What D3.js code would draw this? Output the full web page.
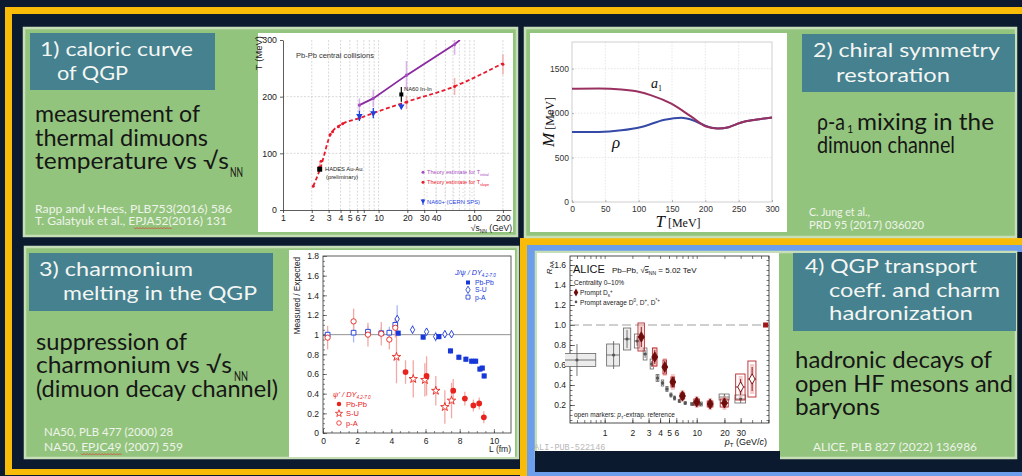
<!DOCTYPE html>
<html><head><meta charset="utf-8">
<script src="https://cdn.jsdelivr.net/npm/d3@7"></script>
<style>body{margin:0;background:#0c1a2f;}svg{display:block;}</style>
</head><body>
<svg id="c" width="1022" height="476"></svg>
<script>
// ---------- slide text ----------
const titles1 = ["1) caloric curve", "of QGP"];
const titles2 = ["2) chiral symmetry", "restoration"];
const titles3 = ["3) charmonium", "melting in the QGP"];
const titles4 = ["4) QGP transport", "coeff. and charm", "hadronization"];
const body1 = ["measurement of", "thermal dimuons", "temperature vs √s"];
const body2 = ["ρ-a", "mixing in the", "dimuon channel"];
const body3 = ["suppression of", "charmonium vs √s", "(dimuon decay channel)"];
const body4 = ["hadronic decays of", "open HF mesons and", "baryons"];
const refs1 = ["Rapp and v.Hees, PLB753(2016) 586", "T. Galatyuk et al., EPJA52(2016) 131"];
const refs2 = ["C. Jung et al.,", "PRD 95 (2017) 036020"];
const refs3 = ["NA50, PLB 477 (2000) 28", "NA50, EPJC49 (2007) 559"];
const refs4 = ["ALICE, PLB 827 (2022) 136986"];

// ---------- caloric curve: T vs sqrt(s_NN) ----------
const caloricXTicks = [1, 2, 3, 4, 5, 6, 7, 10, 20, 30, 40, 100, 200];
const caloricGrid = [2, 3, 4, 5, 6, 7, 8, 9, 10, 20, 30, 40, 50, 60, 70, 80, 90, 100, 200];
const caloricYTicks = [0, 100, 200, 300];
const tInitialLine = [[6.3, 185], [8.8, 197], [19.7, 238], [62, 292], [71, 300]];
const tSlopeLine = [[2.07, 42], [2.44, 72], [3.2, 136], [4.2, 152], [6.3, 162], [8.8, 171], [19.7, 191], [62, 218], [200, 259]];
const tInitialPts = [[6.3, 185, 12], [8.8, 197, 15], [19.6, 238, 25], [62.4, 292, 18]];
const tSlopePts = [[2.07, 42, 0], [2.42, 76, 8], [2.5, 86, 0], [3.1, 133, 0], [3.3, 138, 0], [3.8, 147, 0], [4.2, 152, 0], [6.3, 162, 0], [8.8, 171, 0], [19.6, 190, 12], [62.4, 218, 15], [200, 257, 18]];
const na60PlusPts = [[6.3, 166, 9], [8.8, 171, 9], [17.3, 183, 5]];
const hadesPt = [[2.42, 72]];
const na60InInPt = [[17.3, 204, 13]];

// ---------- chiral mixing: M vs T ----------
const tempTicks = [0, 50, 100, 150, 200, 250, 300];
const massTicks = [0, 500, 1000, 1500];
const a1Mass = [[0, 1275], [40, 1276], [74, 1266], [100, 1240], [119, 1200], [149, 1106], [179, 960], [201, 850], [219, 827], [235, 842], [254, 895], [275, 925], [300, 952]];
const rhoMass = [[0, 787], [40, 788], [74, 806], [104, 844], [139, 926], [164, 949], [179, 926], [199, 862], [210, 835], [219, 827], [235, 842], [254, 895], [275, 925], [300, 952]];

// ---------- charmonium suppression: Measured/Expected vs L ----------
const lTicks = [0, 2, 4, 6, 8, 10];
const ratioTicks = [0, 0.2, 0.4, 0.6, 0.8, 1, 1.2, 1.4, 1.6, 1.8];
const jpsiPbPb = [[4.40, 1.015, 0.03], [5.86, 0.975, 0.03], [6.78, 0.98, 0.03], [7.46, 0.835, 0.03], [7.95, 0.77, 0.03], [8.36, 0.75, 0.03], [8.70, 0.73, 0.03], [8.93, 0.73, 0.03], [9.18, 0.65, 0.03], [9.32, 0.66, 0.03], [9.43, 0.58, 0.03]];
const jpsiSU = [[4.34, 1.16, 0.14], [5.24, 1.05, 0.05], [6.06, 1.03, 0.04], [6.59, 0.98, 0.05], [7.13, 1.005, 0.04], [7.52, 1.005, 0.04]];
const jpsiPA = [[0.27, 1.0, 0.05], [1.79, 1.02, 0.1], [2.63, 1.03, 0.06], [3.41, 1.015, 0.06], [3.88, 1.02, 0.06], [4.23, 1.1, 0.06]];
const psiPbPb = [[4.83, 0.62, 0.12], [6.06, 0.58, 0.2], [7.62, 0.43, 0.12], [8.3, 0.35, 0.07], [8.8, 0.28, 0.06], [9.14, 0.3, 0.06], [9.41, 0.16, 0.06]];
const psiSU = [[4.3, 0.775, 0.27], [5.28, 0.55, 0.19], [5.96, 0.54, 0.17], [6.6, 0.43, 0.15], [7.13, 0.265, 0.17], [7.52, 0.33, 0.18]];
const psiPA = [[0.27, 0.97, 0.12], [1.79, 1.135, 0.13], [2.63, 1.0, 0.12], [3.41, 1.01, 0.12], [3.88, 0.95, 0.1], [4.23, 1.07, 0.1]];

// ---------- ALICE R_AA vs pT ----------
const ptTicks = [1, 2, 3, 4, 5, 6, 10, 20, 30];
const ptMinor = [0.5, 0.6, 0.7, 0.8, 0.9, 1, 2, 3, 4, 5, 6, 7, 8, 9, 10, 20, 30, 40, 50, 60];
const raaTicks = [0.2, 0.4, 0.6, 0.8, 1.0, 1.2, 1.4, 1.6];
// [pT, R_AA, systematic, statistical, box low pT, box high pT]
const dAverage = [[0.5, 0.65, 0.065, 0.16, 0.36, 0.8], [1.25, 0.70, 0.11, 0.14, 1.05, 1.45], [1.75, 0.86, 0.11, 0.09, 1.6, 1.92], [2.25, 0.84, 0.07, 0.05, 2.1, 2.4], [2.75, 0.71, 0.06, 0.04, 2.62, 2.88], [3.25, 0.61, 0.05, 0.03, 3.12, 3.38], [3.75, 0.47, 0.035, 0.03, 3.62, 3.88], [4.25, 0.42, 0.03, 0.02, 4.12, 4.38], [4.75, 0.36, 0.025, 0.02, 4.62, 4.88], [5.25, 0.30, 0.02, 0.02, 5.12, 5.38], [5.75, 0.27, 0.02, 0.02, 5.62, 5.88], [6.5, 0.24, 0.015, 0.015, 6.3, 6.7], [7.5, 0.22, 0.015, 0.015, 7.3, 7.7], [9, 0.21, 0.015, 0.015, 8.6, 9.4], [11, 0.21, 0.02, 0.02, 10.5, 11.5], [14, 0.21, 0.02, 0.02, 13.3, 14.7], [20, 0.28, 0.03, 0.03, 17.5, 22.5], [30, 0.26, 0.04, 0.04, 26, 34]];
// [pT, R_AA, systematic, statistical, box low pT, box high pT, open marker]
const dsPrompt = [[2.5, 0.88, 0.14, 0.1, 2.3, 2.7, 0], [3.5, 0.68, 0.09, 0.07, 3.3, 3.7, 0], [4.5, 0.58, 0.07, 0.06, 4.3, 4.7, 0], [5.5, 0.43, 0.05, 0.05, 5.25, 5.75, 0], [7, 0.29, 0.03, 0.03, 6.6, 7.4, 0], [10, 0.23, 0.03, 0.03, 9.3, 10.7, 0], [14, 0.21, 0.03, 0.03, 13, 15, 0], [20, 0.22, 0.04, 0.04, 18, 22, 0], [30, 0.38, 0.13, 0.08, 26.5, 33.5, 1], [40, 0.46, 0.18, 0.12, 36, 44, 1]];
const normUnc = [[56, 1.0]];

// ---------- colours ----------
const NAVY = '#0c1a2f', YEL = '#f8bb08', BLUE = '#6d9eeb', GREEN = '#93c47d', EDGE = '#c6dfb9', TEAL = '#45818e';
const SLIDE_FONT = 'Lato, "Open Sans", sans-serif';
const PLOT_FONT = '"Liberation Sans", Arial, sans-serif';
const SERIF = '"Liberation Serif", "DejaVu Serif", serif';

const svg = d3.select('#c');

function txt(parent, x, y, str, o = {}) {
  const t = parent.append('text').attr('x', x).attr('y', y).text(str)
    .attr('font-family', o.family || SLIDE_FONT)
    .attr('font-size', o.size || 12)
    .attr('fill', o.color || '#111');
  if (o.anchor) t.attr('text-anchor', o.anchor);
  if (o.italic) t.attr('font-style', 'italic');
  if (o.len) t.attr('textLength', o.len).attr('lengthAdjust', 'spacingAndGlyphs');
  if (o.rotate) t.attr('transform', `rotate(${o.rotate},${x},${y})`);
  return t;
}
// a slide text box: one <text>, one absolutely placed run per line piece
// piece = [x, baseline, string, width, font size (optional)]
function textBox(pieces, size, color) {
  const t = svg.append('text').attr('font-family', SLIDE_FONT).attr('font-size', size).attr('fill', color);
  pieces.forEach(p => {
    const s = t.append('tspan').attr('x', p[0]).attr('y', p[1]).text(p[2]);
    if (p[3]) s.attr('textLength', p[3]).attr('lengthAdjust', 'spacingAndGlyphs');
    if (p[4]) s.attr('font-size', p[4]);
  });
  return t;
}

// ---------- background and frames ----------
svg.append('rect').attr('width', 1022).attr('height', 476).attr('fill', NAVY);
svg.append('rect').attr('x', 5).attr('y', 7).attr('width', 1017).attr('height', 7).attr('fill', YEL);
svg.append('rect').attr('x', 5).attr('y', 7).attr('width', 7).attr('height', 468).attr('fill', YEL);
svg.append('rect').attr('x', 5).attr('y', 469).attr('width', 522).attr('height', 6).attr('fill', YEL);
svg.append('rect').attr('x', 520).attr('y', 238).attr('width', 502).attr('height', 238).attr('fill', YEL);
svg.append('rect').attr('x', 527).attr('y', 245).attr('width', 495).attr('height', 231).attr('fill', BLUE);
svg.append('rect').attr('x', 535).attr('y', 252).attr('width', 487).attr('height', 220).attr('fill', NAVY);

// ---------- panels ----------
const panels = [[24, 28, 493, 208], [525, 28, 491, 209], [25, 247, 493, 211], [536, 252, 480, 206]];
svg.selectAll(null).data(panels).join('rect')
  .attr('x', d => d[0]).attr('y', d => d[1]).attr('width', d => d[2]).attr('height', d => d[3])
  .attr('fill', GREEN).attr('stroke', EDGE).attr('stroke-width', 2.5);
// the ALICE figure sits lower than its panel and leaves the slide background below it
svg.append('rect').attr('x', 535).attr('y', 451).attr('width', 245).attr('height', 21).attr('fill', NAVY);

const boxes = [[30, 33, 185, 57], [802, 34, 213, 58], [29, 253, 244, 58], [793, 253, 223, 78]];
svg.selectAll(null).data(boxes).join('rect')
  .attr('x', d => d[0]).attr('y', d => d[1]).attr('width', d => d[2]).attr('height', d => d[3])
  .attr('fill', TEAL);

const W = '#f4f6f4', tsz = 19;
textBox([[40, 56, titles1[0], 153], [57, 80, titles1[1], 71]], tsz, W);
textBox([[813, 57, titles2[0], 187], [836, 82, titles2[1], 114]], tsz, W);
textBox([[39, 276, titles3[0], 154], [63, 300, titles3[1], 194]], tsz, W);
textBox([[805, 273, titles4[0], 172], [829, 297, titles4[1], 171], [829, 320, titles4[2], 144]], tsz, W);

const bsz = 23, BK = '#161616';
textBox([[35, 122, body1[0], 165], [35, 146, body1[1], 173], [35, 169, body1[2], 194], [230, 177, 'NN', 13, 13]], bsz, BK);
textBox([[817, 130, body2[0], 28], [847, 133, '1', 0, 11], [857, 130, body2[1], 137], [817, 153, body2[2], 138]], bsz, BK);
textBox([[36, 350, body3[0], 151], [36, 373, body3[1], 196], [234, 381, 'NN', 14, 13], [36, 397, body3[2], 242]], bsz, BK);
textBox([[795, 368, body4[0], 197], [795, 392, body4[1], 218], [795, 415, body4[2], 85]], bsz, BK);

const RC = '#eef4ea', rsz = 11.5;
textBox([[35, 213, refs1[0], 197], [35, 225, refs1[1], 192]], rsz, RC);
textBox([[809, 216, refs2[0], 61], [809, 229, refs2[1], 115]], rsz, RC);
textBox([[44, 436, refs3[0], 129], [44, 451, refs3[1], 139]], rsz, RC);
textBox([[813, 451, refs4[0], 164]], rsz, RC);
// spell-check squiggles under the journal names
function squiggle(x0, x1, y) {
  const pts = d3.range(x0, x1 + 0.1, 1.5).map((x, i) => [x, y + (i % 2 ? 1 : -0.5)]);
  svg.append('path').attr('d', d3.line()(pts)).attr('fill', 'none').attr('stroke', '#d9453a').attr('stroke-width', 0.8);
}
squiggle(134, 172, 228);
squiggle(81, 122, 454);

// =========== chart 1: caloric curve ===========
{
  const g = svg.append('g');
  g.append('rect').attr('x', 258).attr('y', 33).attr('width', 255).attr('height', 199).attr('fill', '#fff');
  const x = d3.scaleLog().domain([1, 243]).range([283, 511]);
  const y = d3.scaleLinear().domain([0, 300]).range([210, 40]);
  g.selectAll(null).data(caloricGrid).join('line')
    .attr('x1', d => x(d)).attr('x2', d => x(d)).attr('y1', 40).attr('y2', 210)
    .attr('stroke', '#cfcfcf').attr('stroke-width', 0.8).attr('stroke-dasharray', '2,1.5');
  g.selectAll(null).data([100, 200]).join('line')
    .attr('x1', 283).attr('x2', 511).attr('y1', d => y(d)).attr('y2', d => y(d))
    .attr('stroke', '#cfcfcf').attr('stroke-width', 0.8).attr('stroke-dasharray', '2,1.5');
  const xa = g.append('g').attr('transform', 'translate(0,210)')
    .call(d3.axisBottom(x).tickValues(caloricXTicks).tickFormat(d3.format('d')).tickSize(3).tickSizeOuter(0).tickPadding(2));
  const ya = g.append('g').attr('transform', 'translate(283,0)')
    .call(d3.axisLeft(y).tickValues(caloricYTicks).tickSize(3).tickSizeOuter(0));
  [xa, ya].forEach(a => {
    a.selectAll('text').attr('font-family', PLOT_FONT).attr('font-size', 8.8).attr('fill', '#222');
    a.selectAll('path,line').attr('stroke', '#333').attr('stroke-width', 0.8);
  });
  txt(g, 262, 36, 'T (MeV)', {family: PLOT_FONT, size: 9.5, color: '#222', rotate: -90, anchor: 'end'});
  const xt = txt(g, 512, 231, '', {family: PLOT_FONT, size: 8.5, color: '#222', anchor: 'end'});
  xt.append('tspan').text('√s');
  xt.append('tspan').text('NN').attr('font-size', 5).attr('dy', 2);
  xt.append('tspan').text(' (GeV)').attr('dy', -2);
  txt(g, 296, 58, 'Pb-Pb central collisions', {family: PLOT_FONT, size: 7.5, color: '#333'});

  g.append('clipPath').attr('id', 'clip1').append('rect').attr('x', 283).attr('y', 40).attr('width', 228).attr('height', 170);
  const pg = g.append('g').attr('clip-path', 'url(#clip1)');
  const line = d3.line().x(d => x(d[0])).y(d => y(d[1]));
  // error bars
  pg.selectAll(null).data(tInitialPts).join('line')
    .attr('x1', d => x(d[0])).attr('x2', d => x(d[0])).attr('y1', d => y(d[1] - d[2])).attr('y2', d => y(d[1] + d[2]))
    .attr('stroke', '#d9b3e6').attr('stroke-width', 1.6);
  pg.selectAll(null).data(tSlopePts.filter(d => d[2] > 0)).join('line')
    .attr('x1', d => x(d[0])).attr('x2', d => x(d[0])).attr('y1', d => y(d[1] - d[2])).attr('y2', d => y(d[1] + d[2]))
    .attr('stroke', '#f2b3b3').attr('stroke-width', 1.6);
  pg.append('path').datum(tInitialLine).attr('d', line).attr('fill', 'none').attr('stroke', '#8a2aa0').attr('stroke-width', 1.8);
  pg.append('path').datum(tSlopeLine).attr('d', line.curve(d3.curveMonotoneX)).attr('fill', 'none')
    .attr('stroke', '#e8192c').attr('stroke-width', 1.8).attr('stroke-dasharray', '4,2.5');
  pg.selectAll(null).data(tInitialPts).join('circle')
    .attr('cx', d => x(d[0])).attr('cy', d => y(d[1])).attr('r', 1.6).attr('fill', '#a64cc0');
  pg.selectAll(null).data(tSlopePts).join('circle')
    .attr('cx', d => x(d[0])).attr('cy', d => y(d[1])).attr('r', 1.5).attr('fill', '#e8192c');
  pg.selectAll(null).data(na60PlusPts).join('line')
    .attr('x1', d => x(d[0])).attr('x2', d => x(d[0])).attr('y1', d => y(d[1] - d[2])).attr('y2', d => y(d[1] + d[2]))
    .attr('stroke', '#1f3fe0').attr('stroke-width', 1.3);
  pg.selectAll(null).data(na60PlusPts).join('path')
    .attr('transform', d => `translate(${x(d[0])},${y(d[1])}) rotate(180)`)
    .attr('d', d3.symbol().type(d3.symbolTriangle).size(18)).attr('fill', '#1f3fe0');
  pg.selectAll(null).data(hadesPt).join('rect')
    .attr('x', d => x(d[0]) - 2.5).attr('y', d => y(d[1]) - 2.5).attr('width', 5).attr('height', 5).attr('fill', '#000');
  pg.selectAll(null).data(na60InInPt).join('line')
    .attr('x1', d => x(d[0])).attr('x2', d => x(d[0])).attr('y1', d => y(d[1] - d[2])).attr('y2', d => y(d[1] + d[2]))
    .attr('stroke', '#000').attr('stroke-width', 1.2);
  pg.selectAll(null).data(na60InInPt).join('rect')
    .attr('x', d => x(d[0]) - 2).attr('y', d => y(d[1]) - 2).attr('width', 4).attr('height', 4).attr('fill', '#000');
  txt(g, 325, 171, 'HADES Au-Au', {family: PLOT_FONT, size: 5.8, color: '#222'});
  txt(g, 326, 178.5, '(preliminary)', {family: PLOT_FONT, size: 5.8, color: '#222'});
  txt(g, 404, 91, 'NA60 In-In', {family: PLOT_FONT, size: 5.8, color: '#222'});
  // legend
  const lg = [['Theory estimate for T', 'initial', '#a64cc0', 174], ['Theory estimate for T', 'slope', '#e8192c', 184]];
  lg.forEach(l => {
    g.append('circle').attr('cx', 423).attr('cy', l[3] - 1.8).attr('r', 1.5).attr('fill', l[2]);
    const t = txt(g, 427, l[3], '', {family: PLOT_FONT, size: 5.6, color: l[2]});
    t.append('tspan').text(l[0]);
    t.append('tspan').text(l[1]).attr('font-size', 3.8).attr('dy', 1.5);
  });
  g.selectAll(null).data(d3.cross(d3.range(6), d3.range(3))).join('circle')
    .attr('cx', d => 427 + d[0] * 9).attr('cy', d => 189 + d[1] * 3.5).attr('r', 0.4).attr('fill', '#999');
  g.append('line').attr('x1', 423).attr('x2', 423).attr('y1', 199).attr('y2', 205).attr('stroke', '#1f3fe0').attr('stroke-width', 1);
  g.append('path').attr('transform', 'translate(423,201) rotate(180)').attr('d', d3.symbol().type(d3.symbolTriangle).size(10)).attr('fill', '#1f3fe0');
  txt(g, 427, 203.5, 'NA60+ (CERN SPS)', {family: PLOT_FONT, size: 5.8, color: '#1f3fe0'});
}

// =========== chart 2: rho / a1 masses ===========
{
  const g = svg.append('g');
  g.append('rect').attr('x', 530).attr('y', 33).attr('width', 257).attr('height', 199).attr('fill', '#fff');
  const x = d3.scaleLinear().domain([0, 300]).range([572, 772]);
  const y = d3.scaleLinear().domain([0, 1800]).range([202, 42]);
  g.selectAll(null).data(tempTicks.slice(1, -1)).join('line')
    .attr('x1', d => x(d)).attr('x2', d => x(d)).attr('y1', 42).attr('y2', 202)
    .attr('stroke', '#dcdcdc').attr('stroke-width', 0.7).attr('stroke-dasharray', '1.5,1.5');
  g.selectAll(null).data(massTicks.slice(1)).join('line')
    .attr('x1', 572).attr('x2', 772).attr('y1', d => y(d)).attr('y2', d => y(d))
    .attr('stroke', '#dcdcdc').attr('stroke-width', 0.7).attr('stroke-dasharray', '1.5,1.5');
  g.append('rect').attr('x', 572).attr('y', 42).attr('width', 200).attr('height', 160)
    .attr('fill', 'none').attr('stroke', '#c4c4c4').attr('stroke-width', 0.8);
  const xa = g.append('g').attr('transform', 'translate(0,202)')
    .call(d3.axisBottom(x).tickValues(tempTicks).tickFormat(d3.format('d')).tickSize(-2).tickSizeOuter(0).tickPadding(4));
  const ya = g.append('g').attr('transform', 'translate(572,0)')
    .call(d3.axisLeft(y).tickValues(massTicks).tickFormat(d3.format('d')).tickSize(-2).tickSizeOuter(0).tickPadding(3));
  [xa, ya].forEach(a => {
    a.select('.domain').remove();
    a.selectAll('text').attr('font-family', PLOT_FONT).attr('font-size', 8.5).attr('fill', '#333');
    a.selectAll('line').attr('stroke', '#999').attr('stroke-width', 0.7);
  });
  const curve = d3.line().x(d => x(d[0])).y(d => y(d[1])).curve(d3.curveMonotoneX);
  g.append('path').datum(rhoMass).attr('d', curve).attr('fill', 'none').attr('stroke', '#3549a6').attr('stroke-width', 2);
  g.append('path').datum(a1Mass).attr('d', curve).attr('fill', 'none').attr('stroke', '#99305f').attr('stroke-width', 2);
  const a1 = txt(g, 651, 88, 'a', {family: SERIF, size: 14, color: '#111', italic: true});
  a1.append('tspan').text('1').attr('font-size', 8).attr('font-style', 'normal').attr('dy', 3);
  txt(g, 612, 148, 'ρ', {family: SERIF, size: 17, color: '#111', italic: true});
  const yt = txt(g, 554, 122, '', {family: SERIF, size: 17, color: '#111', rotate: -90, anchor: 'middle'});
  yt.append('tspan').text('M').attr('font-style', 'italic');
  yt.append('tspan').text(' [MeV]').attr('font-size', 12);
  const xt = txt(g, 678, 227, '', {family: SERIF, size: 17, color: '#111', anchor: 'middle'});
  xt.append('tspan').text('T').attr('font-style', 'italic');
  xt.append('tspan').text(' [MeV]').attr('font-size', 12);
}

// =========== chart 3: charmonium suppression ===========
{
  const g = svg.append('g');
  g.append('rect').attr('x', 289).attr('y', 250).attr('width', 226).attr('height', 207).attr('fill', '#fff');
  const x = d3.scaleLinear().domain([0, 11]).range([323, 511]);
  const y = d3.scaleLinear().domain([0, 1.8]).range([433, 256]);
  g.append('rect').attr('x', 323).attr('y', 256).attr('width', 188).attr('height', 177)
    .attr('fill', 'none').attr('stroke', '#333').attr('stroke-width', 0.8);
  g.append('line').attr('x1', 323).attr('x2', 511).attr('y1', y(1)).attr('y2', y(1)).attr('stroke', '#888').attr('stroke-width', 0.9);
  const xa = g.append('g').attr('transform', 'translate(0,433)')
    .call(d3.axisBottom(x).tickValues(lTicks).tickSize(-4).tickSizeOuter(0).tickPadding(5));
  const ya = g.append('g').attr('transform', 'translate(323,0)')
    .call(d3.axisLeft(y).tickValues(ratioTicks).tickFormat(d => d === 0 ? '0' : d === 1 ? '1' : d3.format('.1f')(d)).tickSize(-4).tickSizeOuter(0).tickPadding(4));
  const xm = g.append('g').attr('transform', 'translate(0,433)')
    .call(d3.axisBottom(x).tickValues(d3.range(0, 11, 0.5)).tickFormat('').tickSize(-2).tickSizeOuter(0));
  const ym = g.append('g').attr('transform', 'translate(323,0)')
    .call(d3.axisLeft(y).tickValues(d3.range(0, 1.8, 0.05)).tickFormat('').tickSize(-2).tickSizeOuter(0));
  [xa, ya, xm, ym].forEach(a => {
    a.select('.domain').remove();
    a.selectAll('text').attr('font-family', PLOT_FONT).attr('font-size', 8.5).attr('fill', '#222');
    a.selectAll('line').attr('stroke', '#333').attr('stroke-width', 0.6);
  });
  txt(g, 300, 257, 'Measured / Expected', {family: PLOT_FONT, size: 8.2, color: '#222', rotate: -90, anchor: 'end'});
  txt(g, 511, 452, 'L (fm)', {family: PLOT_FONT, size: 8.5, color: '#222', anchor: 'end'});

  const ebar = (data, color) => g.selectAll(null).data(data).join('line')
    .attr('x1', d => x(d[0])).attr('x2', d => x(d[0])).attr('y1', d => y(d[1] - d[2])).attr('y2', d => y(d[1] + d[2]))
    .attr('stroke', color).attr('stroke-width', 1.3);
  const marks = (data, type, size, color, filled) => g.selectAll(null).data(data).join('path')
    .attr('transform', d => `translate(${x(d[0])},${y(d[1])})`)
    .attr('d', d3.symbol().type(type).size(size))
    .attr('fill', filled ? color : '#fff').attr('stroke', color).attr('stroke-width', filled ? 0 : 0.9);
  const BL = '#1737d8', BLe = '#a9b8f0', RD = '#e8221c', RDe = '#f3a8a6';
  ebar(jpsiPA, BLe); ebar(jpsiSU, BLe); ebar(jpsiPbPb, BLe);
  ebar(psiPA, RDe); ebar(psiSU, RDe); ebar(psiPbPb, RDe);
  marks(jpsiPA, d3.symbolSquare, 22, BL, false);
  marks(jpsiSU, d3.symbolDiamond, 16, BL, false);
  marks(jpsiPbPb, d3.symbolSquare, 26, BL, true);
  marks(psiPA, d3.symbolCircle, 22, RD, false);
  marks(psiSU, d3.symbolStar, 22, RD, false);
  marks(psiPbPb, d3.symbolCircle, 26, RD, true);
  // legends
  const jl = txt(g, 455, 275, '', {family: PLOT_FONT, size: 7.2, color: BL, italic: true});
  jl.append('tspan').text('J/ψ / DY');
  jl.append('tspan').text('4.2-7.0').attr('font-size', 4.5).attr('dy', 2);
  const jleg = [['Pb-Pb', d3.symbolSquare, true], ['S-U', d3.symbolDiamond, false], ['p-A', d3.symbolSquare, false]];
  const jt = g.append('text').attr('font-family', PLOT_FONT).attr('font-size', 6.8).attr('fill', BL);
  jleg.forEach((d, i) => {
    g.append('path').attr('transform', `translate(468,${282.5 + i * 7.3})`).attr('d', d3.symbol().type(d[1]).size(16))
      .attr('fill', d[2] ? BL : '#fff').attr('stroke', BL).attr('stroke-width', d[2] ? 0 : 0.8);
    jt.append('tspan').attr('x', 475).attr('y', 285 + i * 7.3).text(d[0]);
  });
  const pl = txt(g, 333, 397, '', {family: PLOT_FONT, size: 7.5, color: RD, italic: true});
  pl.append('tspan').text("ψ' / DY");
  pl.append('tspan').text('4.2-7.0').attr('font-size', 4.5).attr('dy', 2);
  const pleg = [['Pb-Pb', d3.symbolCircle, true], ['S-U', d3.symbolStar, false], ['p-A', d3.symbolCircle, false]];
  pleg.forEach((d, i) => {
    g.append('path').attr('transform', `translate(339,${404 + i * 9.5})`).attr('d', d3.symbol().type(d[1]).size(16))
      .attr('fill', d[2] ? RD : '#fff').attr('stroke', RD).attr('stroke-width', d[2] ? 0 : 0.8);
    txt(g, 346, 406.5 + i * 9.5, d[0], {family: PLOT_FONT, size: 7.5, color: RD});
  });
}

// =========== chart 4: ALICE R_AA ===========
{
  const g = svg.append('g');
  g.append('rect').attr('x', 537).attr('y', 253).attr('width', 242).attr('height', 198).attr('fill', '#fff');
  const x = d3.scaleLog().domain([0.42, 61]).range([570, 769]);
  const y = d3.scaleLinear().domain([0.02, 1.69]).range([423, 256]);
  g.append('rect').attr('x', 570).attr('y', 256).attr('width', 199).attr('height', 167)
    .attr('fill', 'none').attr('stroke', '#222').attr('stroke-width', 0.8);
  const tickStyle = a => {
    a.select('.domain').remove();
    a.selectAll('text').attr('font-family', PLOT_FONT).attr('font-size', 8.5).attr('fill', '#222');
    a.selectAll('line').attr('stroke', '#222').attr('stroke-width', 0.6);
  };
  tickStyle(g.append('g').attr('transform', 'translate(0,423)')
    .call(d3.axisBottom(x).tickValues(ptTicks).tickFormat(d3.format('d')).tickSize(-5).tickPadding(7)));
  tickStyle(g.append('g').attr('transform', 'translate(0,423)')
    .call(d3.axisBottom(x).tickValues(ptMinor).tickFormat('').tickSize(-3)));
  tickStyle(g.append('g').attr('transform', 'translate(0,256)')
    .call(d3.axisTop(x).tickValues(ptMinor).tickFormat('').tickSize(-3)));
  tickStyle(g.append('g').attr('transform', 'translate(570,0)')
    .call(d3.axisLeft(y).tickValues(raaTicks).tickFormat(d3.format('.1f')).tickSize(-5).tickPadding(4)));
  tickStyle(g.append('g').attr('transform', 'translate(570,0)')
    .call(d3.axisLeft(y).tickValues(d3.range(0.05, 1.69, 0.05)).tickFormat('').tickSize(-2.5)));
  tickStyle(g.append('g').attr('transform', 'translate(769,0)')
    .call(d3.axisRight(y).tickValues(d3.range(0.05, 1.69, 0.05)).tickFormat('').tickSize(-2.5)));
  g.append('line').attr('x1', 570).attr('x2', 769).attr('y1', y(1)).attr('y2', y(1))
    .attr('stroke', '#888').attr('stroke-width', 0.8).attr('stroke-dasharray', '9,4');
  g.selectAll(null).data(normUnc).join('rect')
    .attr('x', d => x(d[0]) - 2.5).attr('y', d => y(d[1]) - 2.5).attr('width', 5).attr('height', 5).attr('fill', '#a01818');

  g.append('clipPath').attr('id', 'clip4').append('rect').attr('x', 565).attr('y', 256).attr('width', 204).attr('height', 167);
  const pg = g.append('g').attr('clip-path', 'url(#clip4)');
  // averaged D mesons: boxes, stat bars, markers
  pg.selectAll(null).data(dAverage).join('rect')
    .attr('x', d => x(d[4])).attr('width', d => x(d[5]) - x(d[4]))
    .attr('y', d => y(d[1] + d[2])).attr('height', d => y(d[1] - d[2]) - y(d[1] + d[2]))
    .attr('fill', (d, i) => i < 3 ? '#ececec' : 'none').attr('stroke', '#666').attr('stroke-width', 0.8);
  pg.selectAll(null).data(dAverage).join('line')
    .attr('x1', d => x(d[0])).attr('x2', d => x(d[0])).attr('y1', d => y(d[1] - d[3])).attr('y2', d => y(d[1] + d[3]))
    .attr('stroke', '#555').attr('stroke-width', 0.8);
  pg.selectAll(null).data(dAverage).join('line')
    .attr('x1', d => x(d[4])).attr('x2', d => x(d[5])).attr('y1', d => y(d[1])).attr('y2', d => y(d[1]))
    .attr('stroke', '#555').attr('stroke-width', 0.8);
  pg.selectAll(null).data(dAverage).join('circle')
    .attr('cx', d => x(d[0])).attr('cy', d => y(d[1])).attr('r', 1.6).attr('fill', '#555');
  // prompt Ds
  pg.selectAll(null).data(dsPrompt).join('rect')
    .attr('x', d => x(d[0]) - 2).attr('width', 4)
    .attr('y', d => y(d[1] + d[3] + 0.03)).attr('height', d => y(d[1] - d[3] - 0.03) - y(d[1] + d[3] + 0.03))
    .attr('fill', '#f2b5b5').attr('opacity', 0.7);
  pg.selectAll(null).data(dsPrompt).join('rect')
    .attr('x', d => x(d[4])).attr('width', d => x(d[5]) - x(d[4]))
    .attr('y', d => y(d[1] + d[2])).attr('height', d => y(d[1] - d[2]) - y(d[1] + d[2]))
    .attr('fill', 'none').attr('stroke', '#b7262a').attr('stroke-width', 0.9);
  pg.selectAll(null).data(dsPrompt).join('line')
    .attr('x1', d => x(d[0])).attr('x2', d => x(d[0])).attr('y1', d => y(d[1] - d[3])).attr('y2', d => y(d[1] + d[3]))
    .attr('stroke', '#7a1010').attr('stroke-width', 0.9);
  pg.selectAll(null).data(dsPrompt).join('line')
    .attr('x1', d => x(d[4])).attr('x2', d => x(d[5])).attr('y1', d => y(d[1])).attr('y2', d => y(d[1]))
    .attr('stroke', '#7a1010').attr('stroke-width', 0.9);
  pg.selectAll(null).data(dsPrompt).join('path')
    .attr('transform', d => `translate(${x(d[0])},${y(d[1])})`)
    .attr('d', d3.symbol().type(d3.symbolDiamond).size(30))
    .attr('fill', d => d[6] ? '#fff' : '#6e0c0c').attr('stroke', '#6e0c0c').attr('stroke-width', 0.9);

  txt(g, 573, 273, 'ALICE', {family: PLOT_FONT, size: 11, color: '#111'});
  const t2 = txt(g, 612, 273, '', {family: PLOT_FONT, size: 8, color: '#111'});
  t2.append('tspan').text('Pb–Pb, √');
  t2.append('tspan').text('s').attr('text-decoration', 'overline');
  t2.append('tspan').text('NN').attr('font-size', 5).attr('dy', 2);
  t2.append('tspan').text(' = 5.02 TeV').attr('dy', -2);
  txt(g, 574, 284.5, 'Centrality 0–10%', {family: PLOT_FONT, size: 6.6, color: '#222'});
  g.append('path').attr('transform', 'translate(576,292.5)').attr('d', d3.symbol().type(d3.symbolDiamond).size(18)).attr('fill', '#6e0c0c');
  const t3 = txt(g, 580, 295, '', {family: PLOT_FONT, size: 6.6, color: '#222'});
  t3.append('tspan').text('Prompt D');
  t3.append('tspan').text('s').attr('font-size', 4.5).attr('dy', 1.5);
  t3.append('tspan').text('+').attr('font-size', 4.5).attr('dy', -4);
  g.append('circle').attr('cx', 576).attr('cy', 301.9).attr('r', 1.3).attr('fill', '#555');
  const t4 = txt(g, 580, 304.5, '', {family: PLOT_FONT, size: 6.6, color: '#222'});
  t4.append('tspan').text('Prompt average D');
  t4.append('tspan').text('0').attr('font-size', 4.5).attr('dy', -3);
  t4.append('tspan').text(', D').attr('dy', 3);
  t4.append('tspan').text('+').attr('font-size', 4.5).attr('dy', -3);
  t4.append('tspan').text(', D').attr('dy', 3);
  t4.append('tspan').text('*+').attr('font-size', 4.5).attr('dy', -3);
  const t5 = txt(g, 574, 417, '', {family: PLOT_FONT, size: 6.5, color: '#222'});
  t5.append('tspan').text('open markers: ');
  t5.append('tspan').text('p').attr('font-style', 'italic');
  t5.append('tspan').text('T').attr('font-size', 4.2).attr('dy', 1.5);
  t5.append('tspan').text('-extrap. reference').attr('dy', -1.5);
  const ry = txt(g, 552, 261, '', {family: PLOT_FONT, size: 8, color: '#111', rotate: -90, anchor: 'end'});
  ry.append('tspan').text('R').attr('font-style', 'italic');
  ry.append('tspan').text('AA').attr('font-size', 5.5).attr('dy', 2);
  const px = txt(g, 767, 445, '', {family: PLOT_FONT, size: 9, color: '#111', anchor: 'end'});
  px.append('tspan').text('p').attr('font-style', 'italic');
  px.append('tspan').text('T').attr('font-size', 6).attr('dy', 2);
  px.append('tspan').text(' (GeV/').attr('dy', -2);
  px.append('tspan').text('c').attr('font-style', 'italic');
  px.append('tspan').text(')');
  txt(g, 534, 449.5, 'ALI-PUB-522146', {family: '"Liberation Mono", "DejaVu Sans Mono", monospace', size: 8.5, color: '#b8b8b8'});
}
</script>
</body></html>
